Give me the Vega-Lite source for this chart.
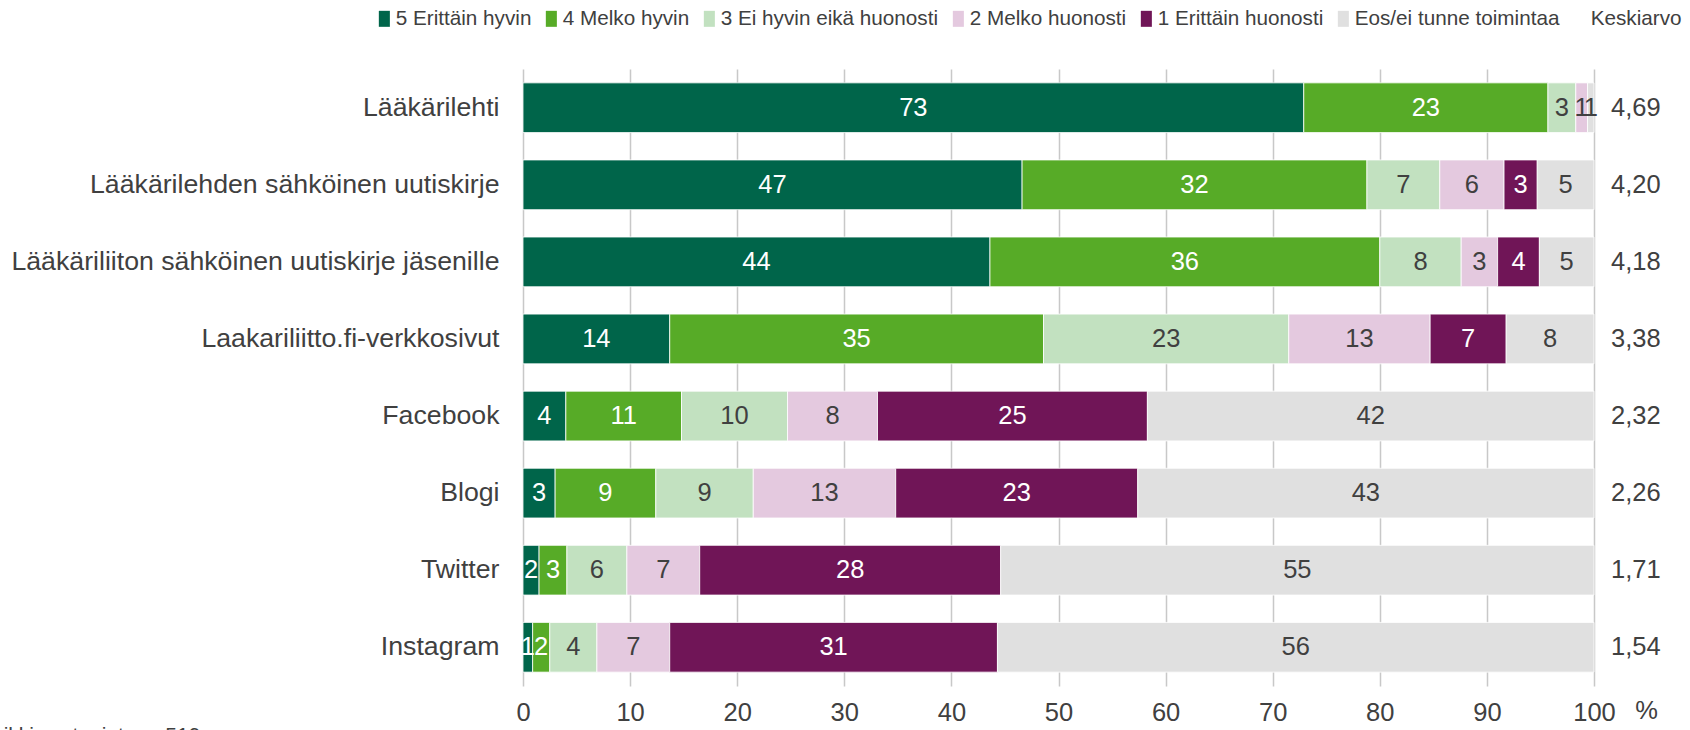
{
  "$schema": "https://vega.github.io/schema/vega-lite/v6.json",
  "width": 1071,
  "height": 617,
  "autosize": {"type": "none"},
  "padding": {"left": 523, "top": 69, "right": 96, "bottom": 44},
  "background": "white",
  "config": {
    "view": {"stroke": null},
    "font": "Liberation Sans",
    "text": {"font": "Liberation Sans"}
  },
  "title": {
    "text": "Kaikki vastaajat n = 519",
    "orient": "bottom",
    "anchor": "start",
    "frame": "group",
    "dx": -545,
    "offset": -1,
    "fontSize": 21,
    "fontWeight": "normal",
    "color": "#404040",
    "font": "Liberation Sans"
  },
  "datasets": {
    "shares": [
      {"item": "Lääkärilehti", "cat": "5 Erittäin hyvin", "o": 1, "value": 72.9},
      {"item": "Lääkärilehti", "cat": "4 Melko hyvin", "o": 2, "value": 22.8},
      {"item": "Lääkärilehti", "cat": "3 Ei hyvin eikä huonosti", "o": 3, "value": 2.6},
      {"item": "Lääkärilehti", "cat": "2 Melko huonosti", "o": 4, "value": 1.1},
      {"item": "Lääkärilehti", "cat": "Eos/ei tunne toimintaa", "o": 6, "value": 0.6},
      {"item": "Lääkärilehden sähköinen uutiskirje", "cat": "5 Erittäin hyvin", "o": 1, "value": 46.6},
      {"item": "Lääkärilehden sähköinen uutiskirje", "cat": "4 Melko hyvin", "o": 2, "value": 32.2},
      {"item": "Lääkärilehden sähköinen uutiskirje", "cat": "3 Ei hyvin eikä huonosti", "o": 3, "value": 6.8},
      {"item": "Lääkärilehden sähköinen uutiskirje", "cat": "2 Melko huonosti", "o": 4, "value": 6.0},
      {"item": "Lääkärilehden sähköinen uutiskirje", "cat": "1 Erittäin huonosti", "o": 5, "value": 3.1},
      {"item": "Lääkärilehden sähköinen uutiskirje", "cat": "Eos/ei tunne toimintaa", "o": 6, "value": 5.3},
      {"item": "Lääkäriliiton sähköinen uutiskirje jäsenille", "cat": "5 Erittäin hyvin", "o": 1, "value": 43.6},
      {"item": "Lääkäriliiton sähköinen uutiskirje jäsenille", "cat": "4 Melko hyvin", "o": 2, "value": 36.4},
      {"item": "Lääkäriliiton sähköinen uutiskirje jäsenille", "cat": "3 Ei hyvin eikä huonosti", "o": 3, "value": 7.6},
      {"item": "Lääkäriliiton sähköinen uutiskirje jäsenille", "cat": "2 Melko huonosti", "o": 4, "value": 3.4},
      {"item": "Lääkäriliiton sähköinen uutiskirje jäsenille", "cat": "1 Erittäin huonosti", "o": 5, "value": 3.9},
      {"item": "Lääkäriliiton sähköinen uutiskirje jäsenille", "cat": "Eos/ei tunne toimintaa", "o": 6, "value": 5.1},
      {"item": "Laakariliitto.fi-verkkosivut", "cat": "5 Erittäin hyvin", "o": 1, "value": 13.7},
      {"item": "Laakariliitto.fi-verkkosivut", "cat": "4 Melko hyvin", "o": 2, "value": 34.9},
      {"item": "Laakariliitto.fi-verkkosivut", "cat": "3 Ei hyvin eikä huonosti", "o": 3, "value": 22.9},
      {"item": "Laakariliitto.fi-verkkosivut", "cat": "2 Melko huonosti", "o": 4, "value": 13.2},
      {"item": "Laakariliitto.fi-verkkosivut", "cat": "1 Erittäin huonosti", "o": 5, "value": 7.1},
      {"item": "Laakariliitto.fi-verkkosivut", "cat": "Eos/ei tunne toimintaa", "o": 6, "value": 8.2},
      {"item": "Facebook", "cat": "5 Erittäin hyvin", "o": 1, "value": 4.0},
      {"item": "Facebook", "cat": "4 Melko hyvin", "o": 2, "value": 10.8},
      {"item": "Facebook", "cat": "3 Ei hyvin eikä huonosti", "o": 3, "value": 9.9},
      {"item": "Facebook", "cat": "2 Melko huonosti", "o": 4, "value": 8.4},
      {"item": "Facebook", "cat": "1 Erittäin huonosti", "o": 5, "value": 25.2},
      {"item": "Facebook", "cat": "Eos/ei tunne toimintaa", "o": 6, "value": 41.7},
      {"item": "Blogi", "cat": "5 Erittäin hyvin", "o": 1, "value": 3.0},
      {"item": "Blogi", "cat": "4 Melko hyvin", "o": 2, "value": 9.4},
      {"item": "Blogi", "cat": "3 Ei hyvin eikä huonosti", "o": 3, "value": 9.1},
      {"item": "Blogi", "cat": "2 Melko huonosti", "o": 4, "value": 13.3},
      {"item": "Blogi", "cat": "1 Erittäin huonosti", "o": 5, "value": 22.6},
      {"item": "Blogi", "cat": "Eos/ei tunne toimintaa", "o": 6, "value": 42.6},
      {"item": "Twitter", "cat": "5 Erittäin hyvin", "o": 1, "value": 1.5},
      {"item": "Twitter", "cat": "4 Melko hyvin", "o": 2, "value": 2.6},
      {"item": "Twitter", "cat": "3 Ei hyvin eikä huonosti", "o": 3, "value": 5.6},
      {"item": "Twitter", "cat": "2 Melko huonosti", "o": 4, "value": 6.8},
      {"item": "Twitter", "cat": "1 Erittäin huonosti", "o": 5, "value": 28.1},
      {"item": "Twitter", "cat": "Eos/ei tunne toimintaa", "o": 6, "value": 55.4},
      {"item": "Instagram", "cat": "5 Erittäin hyvin", "o": 1, "value": 0.9},
      {"item": "Instagram", "cat": "4 Melko hyvin", "o": 2, "value": 1.6},
      {"item": "Instagram", "cat": "3 Ei hyvin eikä huonosti", "o": 3, "value": 4.4},
      {"item": "Instagram", "cat": "2 Melko huonosti", "o": 4, "value": 6.8},
      {"item": "Instagram", "cat": "1 Erittäin huonosti", "o": 5, "value": 30.6},
      {"item": "Instagram", "cat": "Eos/ei tunne toimintaa", "o": 6, "value": 55.7}
    ],
    "means": [
      {"item": "Lääkärilehti", "mean": "4,69"},
      {"item": "Lääkärilehden sähköinen uutiskirje", "mean": "4,20"},
      {"item": "Lääkäriliiton sähköinen uutiskirje jäsenille", "mean": "4,18"},
      {"item": "Laakariliitto.fi-verkkosivut", "mean": "3,38"},
      {"item": "Facebook", "mean": "2,32"},
      {"item": "Blogi", "mean": "2,26"},
      {"item": "Twitter", "mean": "1,71"},
      {"item": "Instagram", "mean": "1,54"}
    ]
  },
  "layer": [
    {
      "data": {"name": "shares"},
      "mark": {"type": "bar", "stroke": "white", "strokeWidth": 0.8},
      "encoding": {
        "y": {
          "field": "item", "type": "nominal",
          "sort": ["Lääkärilehti", "Lääkärilehden sähköinen uutiskirje", "Lääkäriliiton sähköinen uutiskirje jäsenille", "Laakariliitto.fi-verkkosivut", "Facebook", "Blogi", "Twitter", "Instagram"],
          "scale": {"paddingInner": 0.355, "paddingOuter": 0.18},
          "axis": {
            "title": null, "ticks": false, "domain": false, "grid": false,
            "labelFontSize": 26.7, "labelColor": "#404040", "labelPadding": 24,
            "labelLimit": 0, "labelFont": "Liberation Sans"
          }
        },
        "x": {
          "field": "value", "type": "quantitative", "stack": "zero",
          "scale": {"domain": [0, 100], "nice": false},
          "axis": {
            "values": [0, 10, 20, 30, 40, 50, 60, 70, 80, 90, 100],
            "grid": true, "gridColor": "#c8c8c8", "gridWidth": 1.5,
            "domain": false, "ticks": false,
            "labelFontSize": 25.5, "labelColor": "#404040", "labelPadding": 14,
            "labelFont": "Liberation Sans", "labelFlush": false,
            "title": "%", "titleFontSize": 25.5, "titleFontWeight": "normal",
            "titleColor": "#404040", "titleFont": "Liberation Sans",
            "titleX": 1123, "titleY": 24, "titleBaseline": "middle", "titleAlign": "center"
          }
        },
        "order": {"field": "o", "type": "quantitative"},
        "color": {
          "field": "cat", "type": "nominal",
          "scale": {
            "domain": ["5 Erittäin hyvin", "4 Melko hyvin", "3 Ei hyvin eikä huonosti", "2 Melko huonosti", "1 Erittäin huonosti", "Eos/ei tunne toimintaa", "Keskiarvo"],
            "range": ["#00654a", "#57ab27", "#c2e1c0", "#e4c9df", "#701557", "#e0e0e0", "rgba(255,255,255,0)"]
          },
          "legend": {
            "title": null, "orient": "none", "direction": "horizontal",
            "legendX": -149, "legendY": -61, "padding": 0,
            "labelFontSize": 20.7, "labelColor": "#404040", "labelFont": "Liberation Sans",
            "symbolType": "M-0.69,-1H0.69V1H-0.69Z", "symbolSize": 256, "symbolStrokeWidth": 0,
            "labelOffset": 1, "columnPadding": 9, "labelLimit": 0
          }
        }
      }
    },
    {
      "data": {"name": "shares"},
      "transform": [
        {"stack": "value", "groupby": ["item"], "sort": [{"field": "o", "order": "ascending"}], "as": ["x0", "x1"]},
        {"calculate": "(datum.x0 + datum.x1) / 2", "as": "mid"}
      ],
      "mark": {"type": "text", "fontSize": 25.5, "font": "Liberation Sans", "baseline": "middle", "align": "center"},
      "encoding": {
        "y": {"field": "item", "type": "nominal", "sort": ["Lääkärilehti", "Lääkärilehden sähköinen uutiskirje", "Lääkäriliiton sähköinen uutiskirje jäsenille", "Laakariliitto.fi-verkkosivut", "Facebook", "Blogi", "Twitter", "Instagram"]},
        "x": {"field": "mid", "type": "quantitative"},
        "text": {"field": "value", "type": "quantitative", "format": ".0f"},
        "color": {
          "condition": {"test": "datum.cat === '5 Erittäin hyvin' || datum.cat === '4 Melko hyvin' || datum.cat === '1 Erittäin huonosti'", "value": "#ffffff"},
          "value": "#404040"
        }
      }
    },
    {
      "data": {"name": "means"},
      "mark": {"type": "text", "fontSize": 25.5, "font": "Liberation Sans", "baseline": "middle", "align": "left", "dx": 17, "color": "#404040"},
      "encoding": {
        "y": {"field": "item", "type": "nominal", "sort": ["Lääkärilehti", "Lääkärilehden sähköinen uutiskirje", "Lääkäriliiton sähköinen uutiskirje jäsenille", "Laakariliitto.fi-verkkosivut", "Facebook", "Blogi", "Twitter", "Instagram"]},
        "x": {"datum": 100},
        "text": {"field": "mean"}
      }
    }
  ]
}
